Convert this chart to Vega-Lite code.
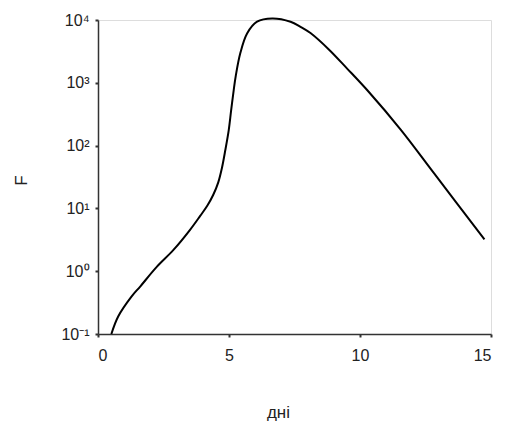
{
  "$schema": "https://vega.github.io/schema/vega-lite/v6.json",
  "width": 393,
  "height": 314,
  "autosize": "none",
  "padding": {"left": 98, "top": 20, "right": 14, "bottom": 96},
  "background": "white",
  "data": {
    "values": [
      {"x": 0.51, "F": 0.1},
      {"x": 0.77, "F": 0.19},
      {"x": 1.27, "F": 0.39},
      {"x": 1.61, "F": 0.57},
      {"x": 2.25, "F": 1.18},
      {"x": 2.88, "F": 2.18},
      {"x": 3.52, "F": 4.6},
      {"x": 3.9, "F": 7.6},
      {"x": 4.17, "F": 11},
      {"x": 4.4, "F": 16.5},
      {"x": 4.59, "F": 26},
      {"x": 4.73, "F": 44},
      {"x": 4.86, "F": 85},
      {"x": 4.99, "F": 177},
      {"x": 5.08, "F": 360},
      {"x": 5.18, "F": 767},
      {"x": 5.26, "F": 1300},
      {"x": 5.43, "F": 2950},
      {"x": 5.69, "F": 6100},
      {"x": 6.07, "F": 9400},
      {"x": 6.65, "F": 10600},
      {"x": 7.35, "F": 9400},
      {"x": 7.73, "F": 7800},
      {"x": 8.11, "F": 6200},
      {"x": 8.81, "F": 3400},
      {"x": 9.5, "F": 1700},
      {"x": 10.28, "F": 760},
      {"x": 11.56, "F": 178},
      {"x": 12.83, "F": 36},
      {"x": 14.75, "F": 3.2}
    ]
  },
  "mark": {"type": "line", "interpolate": "catmull-rom", "color": "black", "strokeWidth": 2, "clip": false},
  "encoding": {
    "x": {
      "field": "x", "type": "quantitative",
      "scale": {"domain": [0, 15], "nice": false},
      "axis": {
        "values": [0, 5, 10, 15], "title": "дні", "grid": false,
        "domainColor": "#333", "domainWidth": 1.5, "tickColor": "#333", "tickSize": 3, "tickWidth": 2,
        "labelFont": "Liberation Sans", "labelFontSize": 16, "labelColor": "#222", "labelPadding": 10,
        "titleFont": "Liberation Sans", "titleFontSize": 17, "titleFontWeight": "normal", "titleColor": "#222",
        "titleX": 180, "titleY": 70
      }
    },
    "y": {
      "field": "F", "type": "quantitative",
      "scale": {"type": "log", "domain": [0.1, 10000], "nice": false},
      "axis": {
        "values": [0.1, 1, 10, 100, 1000, 10000], "title": "F", "grid": false,
        "labelExpr": "datum.value < 0.5 ? '10⁻¹' : datum.value < 5 ? '10⁰' : datum.value < 50 ? '10¹' : datum.value < 500 ? '10²' : datum.value < 5000 ? '10³' : '10⁴'",
        "domainColor": "#333", "domainWidth": 1.5, "tickColor": "#333", "tickSize": 3, "tickWidth": 2,
        "labelFont": "Liberation Sans", "labelFontSize": 16, "labelColor": "#222", "labelPadding": 6,
        "titleFont": "Liberation Sans", "titleFontSize": 17, "titleFontWeight": "normal", "titleColor": "#222",
        "titleX": -68, "titleY": 160
      }
    }
  }
}
